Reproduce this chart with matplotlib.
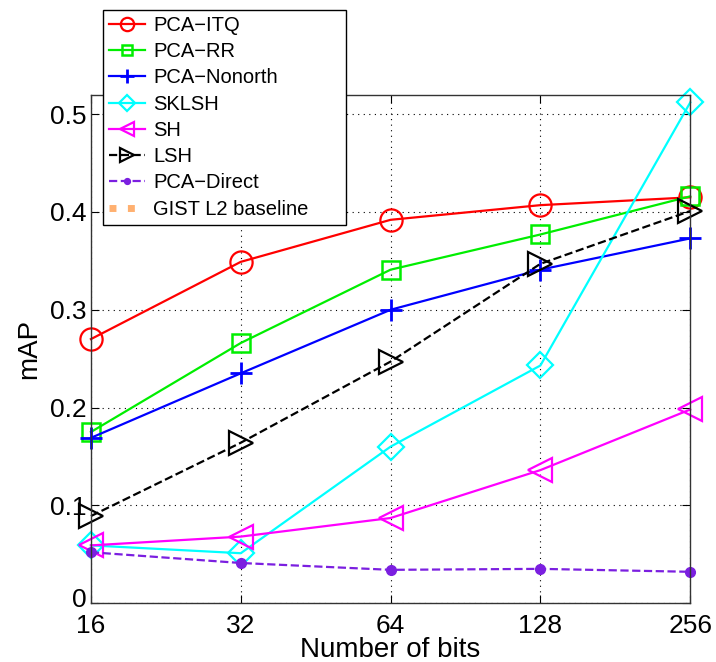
import numpy as np
import matplotlib.pyplot as plt
import matplotlib.transforms as mtransforms

plt.rcParams['font.family'] = ['Liberation Sans', 'DejaVu Sans']

# Data
bits = [16, 32, 64, 128, 256]
itq = [0.270, 0.349, 0.392, 0.407, 0.415]
rr = [0.175, 0.266, 0.341, 0.377, 0.416]
nonorth = [0.169, 0.235, 0.300, 0.341, 0.373]
sklsh = [0.059, 0.051, 0.160, 0.243, 0.512]
sh = [0.059, 0.068, 0.087, 0.136, 0.198]
lsh = [0.089, 0.164, 0.247, 0.347, 0.401]
pca_direct = [0.052, 0.041, 0.034, 0.035, 0.032]

fig = plt.figure(figsize=(7.16, 6.62), dpi=100)
ax = fig.add_axes([0.127, 0.089, 0.837, 0.768])

lw = 1.6
kw = dict(lw=lw, clip_on=False)
ax.plot(bits, itq, '-', color='red', marker='o', ms=16, mfc='none', mew=1.6, label='PCA−ITQ', **kw)
ax.plot(bits, rr, '-', color='#00ee00', marker='s', ms=13, mfc='none', mew=1.8, label='PCA−RR', **kw)
ax.plot(bits, nonorth, '-', color='blue', marker='+', ms=16, mew=2.0, label='PCA−Nonorth', **kw)
ax.plot(bits, sklsh, '-', color='cyan', marker='D', ms=13, mfc='none', mew=1.6, label='SKLSH', **kw)
ax.plot(bits, sh, '-', color='magenta', marker='<', ms=17, mfc='none', mew=1.6, label='SH', **kw)
ax.plot(bits, lsh, '--', color='black', marker='>', ms=17, mfc='none', mew=1.6, label='LSH', **kw)
ax.plot(bits, pca_direct, '--', color='#7b1fe0', marker='o', ms=7, label='PCA−Direct', **kw)
ax.plot([], [], ':', color='#ffb070', lw=5, label='GIST L2 baseline')

ax.set_xscale('log', base=2)
ax.set_xlim(16, 256)
ax.set_ylim(0, 0.52)
ax.set_xticks(bits)
ax.set_xticklabels([str(b) for b in bits])
ax.set_yticks([0, 0.1, 0.2, 0.3, 0.4, 0.5])
ax.set_yticklabels(['0', '0.1', '0.2', '0.3', '0.4', '0.5'])
ax.minorticks_off()
ax.tick_params(direction='in', top=True, right=True, labelsize=19, length=6, pad=3)
ax.tick_params(axis='x', pad=8)
ax.grid(True, color='black', linestyle=(0, (1, 4)), linewidth=0.8)
for s in ax.spines.values():
    s.set_linewidth(1.0)
    s.set_color('#333333')

# nudge the "0" label up a little so it does not collide with "16"
zero_lbl = ax.get_yticklabels()[0]
zero_lbl.set_transform(zero_lbl.get_transform() +
                       mtransforms.ScaledTranslation(0, 4 / 72, fig.dpi_scale_trans))

ax.set_xlabel('Number of bits', fontsize=20, labelpad=-1)
ax.set_ylabel('mAP', fontsize=20, labelpad=6)

handles, labels = ax.get_legend_handles_labels()
leg = fig.legend(handles, labels, loc='upper left', mode='expand',
                 bbox_to_anchor=(0.144, 0.657, 0.339, 0.328),
                 fontsize=14.5, markerscale=0.6, handlelength=1.8, handletextpad=0.4,
                 labelspacing=0.36, borderpad=0.3, borderaxespad=0, fancybox=False,
                 framealpha=1, edgecolor='black')
leg.get_frame().set_linewidth(1.0)

fig.savefig('out.png', dpi=100)
